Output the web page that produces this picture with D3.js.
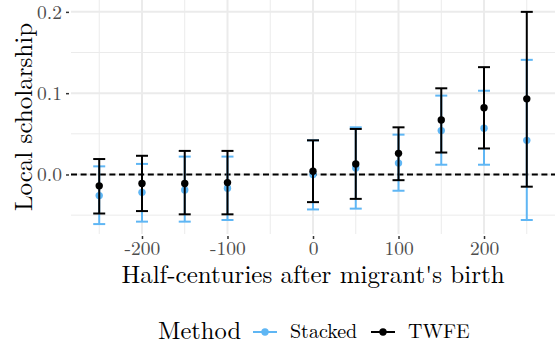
<html>
<head>
  <meta charset="utf-8">
  <script src="https://d3js.org/d3.v7.min.js"></script>
  <style>
  body{ margin:0; background:#fff; }
  svg{ display:block; }
  </style>
</head>
<body>
<svg id="chart"></svg>
<script type="text/javascript">
    // data
    var periods = [-250,-200,-150,-100,0,50,100,150,200,250];
    var stackedEst = [-0.026,-0.022,-0.019,-0.017,0.000,0.008,0.014,0.054,0.057,0.042];
    var stackedLo  = [-0.061,-0.058,-0.058,-0.056,-0.043,-0.042,-0.020,0.012,0.012,-0.056];
    var stackedHi  = [0.010,0.013,0.022,0.022,0.042,0.058,0.049,0.097,0.103,0.141];
    var twfeEst = [-0.014,-0.011,-0.011,-0.010,0.004,0.013,0.026,0.067,0.082,0.093];
    var twfeLo  = [-0.048,-0.045,-0.049,-0.049,-0.034,-0.030,-0.007,0.027,0.032,-0.015];
    var twfeHi  = [0.019,0.023,0.029,0.029,0.042,0.056,0.058,0.106,0.132,0.200];
    var methods = ["Stacked","TWFE"];
    var xTicks = [-200,-100,0,100,200];
    var yTicks = [0.0,0.1,0.2];

    var font = "'Latin Modern Roman', 'Liberation Serif', serif";
    var color = {"Stacked":"#5fb6f4","TWFE":"#000000"};
    var width=555, height=349;
    var pLeft=71, pRight=555, pTop=0, pBottom=234;

    var svg=d3.select("#chart").attr("width",width).attr("height",height);

    var x = d3.scaleLinear().domain([-283,283]).range([pLeft,pRight]);
    var y = d3.scaleLinear().domain([-0.0732,0.2146]).range([pBottom,pTop]);

    // grid
    var xMinor = [-250,-150,-50,50,150,250];
    var yMinor = [-0.05,0.05,0.15];
    var grid = svg.append("g");
    grid.selectAll(".vmin").data(xMinor).enter().append("line")
        .attr("x1",d=>x(d)).attr("x2",d=>x(d)).attr("y1",pTop).attr("y2",pBottom)
        .attr("stroke","#ebebeb").attr("stroke-width",1);
    grid.selectAll(".hmin").data(yMinor).enter().append("line")
        .attr("x1",pLeft).attr("x2",pRight).attr("y1",d=>y(d)).attr("y2",d=>y(d))
        .attr("stroke","#ebebeb").attr("stroke-width",1);
    grid.selectAll(".vmaj").data(xTicks).enter().append("line")
        .attr("x1",d=>x(d)).attr("x2",d=>x(d)).attr("y1",pTop).attr("y2",pBottom)
        .attr("stroke","#ebebeb").attr("stroke-width",2);
    grid.selectAll(".hmaj").data(yTicks).enter().append("line")
        .attr("x1",pLeft).attr("x2",pRight).attr("y1",d=>y(d)).attr("y2",d=>y(d))
        .attr("stroke","#ebebeb").attr("stroke-width",2);

    // zero line
    svg.append("line")
       .attr("x1",pLeft).attr("x2",pRight).attr("y1",y(0)).attr("y2",y(0))
       .attr("stroke","#000").attr("stroke-width",1.8).attr("stroke-dasharray","6,3.6");

    // axes
    var xAxis = d3.axisBottom(x).tickValues(xTicks).tickSize(3).tickPadding(2).tickFormat(d=>String(d));
    var yAxis = d3.axisLeft(y).tickValues(yTicks).tickSize(3).tickPadding(4).tickFormat(d=>d.toFixed(1));
    var gx = svg.append("g").attr("transform","translate(0,"+(pBottom+2)+")").call(xAxis);
    var gy = svg.append("g").attr("transform","translate("+(pLeft-2)+",0)").call(yAxis);
    [gx,gy].forEach(function(g){
      g.attr("font-family",null);
      g.select(".domain").remove();
      g.selectAll(".tick line").attr("stroke","#333").attr("stroke-width",1.5);
      g.selectAll(".tick text").attr("fill","#4d4d4d").style("font-size","19.5px")
       .style("font-family",font);
    });

    // series
    var series = [
      {name:"Stacked", est:stackedEst, lo:stackedLo, hi:stackedHi},
      {name:"TWFE", est:twfeEst, lo:twfeLo, hi:twfeHi}
    ];
    var capW = 6;
    series.forEach(function(s){
      var g = svg.append("g");
      var rows = periods.map(function(p,i){ return {p:p, est:s.est[i], lo:s.lo[i], hi:s.hi[i]}; });
      g.selectAll(".bar").data(rows).enter().append("line")
       .attr("x1",d=>x(d.p)).attr("x2",d=>x(d.p))
       .attr("y1",d=>y(d.lo)).attr("y2",d=>y(d.hi))
       .attr("stroke",color[s.name]).attr("stroke-width",2);
      g.selectAll(".capl").data(rows).enter().append("line")
       .attr("x1",d=>x(d.p)-capW).attr("x2",d=>x(d.p)+capW)
       .attr("y1",d=>y(d.lo)).attr("y2",d=>y(d.lo))
       .attr("stroke",color[s.name]).attr("stroke-width",2);
      g.selectAll(".caph").data(rows).enter().append("line")
       .attr("x1",d=>x(d.p)-capW).attr("x2",d=>x(d.p)+capW)
       .attr("y1",d=>y(d.hi)).attr("y2",d=>y(d.hi))
       .attr("stroke",color[s.name]).attr("stroke-width",2);
      g.selectAll("circle").data(rows).enter().append("circle")
       .attr("cx",d=>x(d.p)).attr("cy",d=>y(d.est)).attr("r",3.7)
       .attr("fill",color[s.name]);
    });

    // titles
    svg.append("text").text("Half-centuries after migrant's birth")
       .attr("x",313).attr("y",283).attr("text-anchor","middle")
       .style("font-family",font).style("font-size","25px").attr("fill","#000");
    svg.append("text").text("Local scholarship")
       .attr("transform","translate(32,117) rotate(-90)").attr("text-anchor","middle")
       .style("font-family",font).style("font-size","25px").attr("fill","#000");

    // legend
    var lg = svg.append("g");
    lg.append("text").text("Method").attr("x",158).attr("y",339)
      .style("font-family",font).style("font-size","24.5px").attr("fill","#000");
    var keyX = [253,371], labX=[290,408];
    methods.forEach(function(m,i){
      lg.append("line").attr("x1",keyX[i]).attr("x2",keyX[i]+24)
        .attr("y1",332).attr("y2",332).attr("stroke",color[m]).attr("stroke-width",2);
      lg.append("circle").attr("cx",keyX[i]+12).attr("cy",332).attr("r",3.7).attr("fill",color[m]);
      lg.append("text").text(m).attr("x",labX[i]).attr("y",337.5)
        .style("font-family",font).style("font-size","20px").attr("fill","#000");
    });
</script>
</body>
</html>
